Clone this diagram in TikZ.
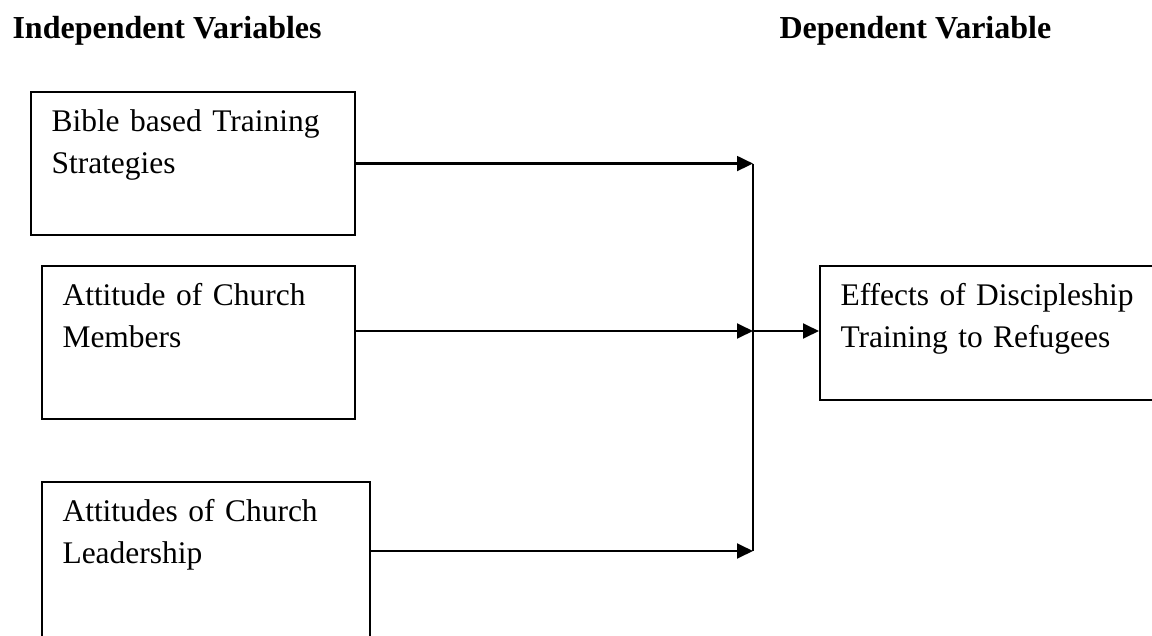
\documentclass[tikz,border=0pt]{standalone}
\usepackage{fontspec}
\setmainfont{Liberation Serif}
\usetikzlibrary{arrows.meta}

\begin{document}
\begin{tikzpicture}[x=0.375pt,y=-0.375pt]
% Diagram style
\tikzset{
    varbox/.style={draw, line width=0.8pt, inner sep=0pt, anchor=north west},
    vartext/.style={anchor=base west, inner sep=0pt, text width=125pt, align=left,
        font=\fontsize{11.8}{16.1}\selectfont},
    heading/.style={anchor=base west, inner sep=0pt, font=\fontsize{12}{14}\selectfont\bfseries},
    flow/.style={line width=0.8pt, -{Triangle[length=6pt,width=5.6pt]}},
    joint/.style={line width=0.8pt}
}
\clip (0,0) rectangle (1152,636);

% Headings
\node[heading] (IndHead) at (12,38) {Independent Variables};
\node[heading] (DepHead) at (779,38) {Dependent Variable};

% Variable boxes
\node[varbox, minimum width=121.5pt, minimum height=53.6pt] (Bible) at (30,91) {};
\node[varbox, minimum width=117.4pt, minimum height=57.4pt] (Members) at (41,265) {};
\node[varbox, minimum width=123pt, minimum height=67pt] (Leaders) at (41,481) {};
\node[varbox, minimum width=128pt, minimum height=50.2pt] (Effects) at (819,265) {};

% Box texts
\node[vartext] (BibleTxt) at (51,131) {Bible based Training\\Strategies};
\node[vartext] (MembersTxt) at (62,305) {Attitude of Church\\Members};
\node[vartext] (LeadersTxt) at (62,521) {Attitudes of Church\\Leadership};
\node[vartext] (EffectsTxt) at (840,305) {Effects of Discipleship\\Training to Refugees};

% Connection
\coordinate (JTop) at (753,163);
\coordinate (JMid) at (753,331);
\coordinate (JBot) at (753,551);

\draw[flow] (Bible.east) -- (Bible.east -| JTop);
\draw[flow] (Members.east |- JMid) -- (JMid);
\draw[flow] (Leaders.east |- JBot) -- (JBot);
\draw[joint] (Bible.east -| JTop) -- (JBot);
\draw[flow] (JMid) -- (Effects.west |- JMid);
\end{tikzpicture}
\end{document}
